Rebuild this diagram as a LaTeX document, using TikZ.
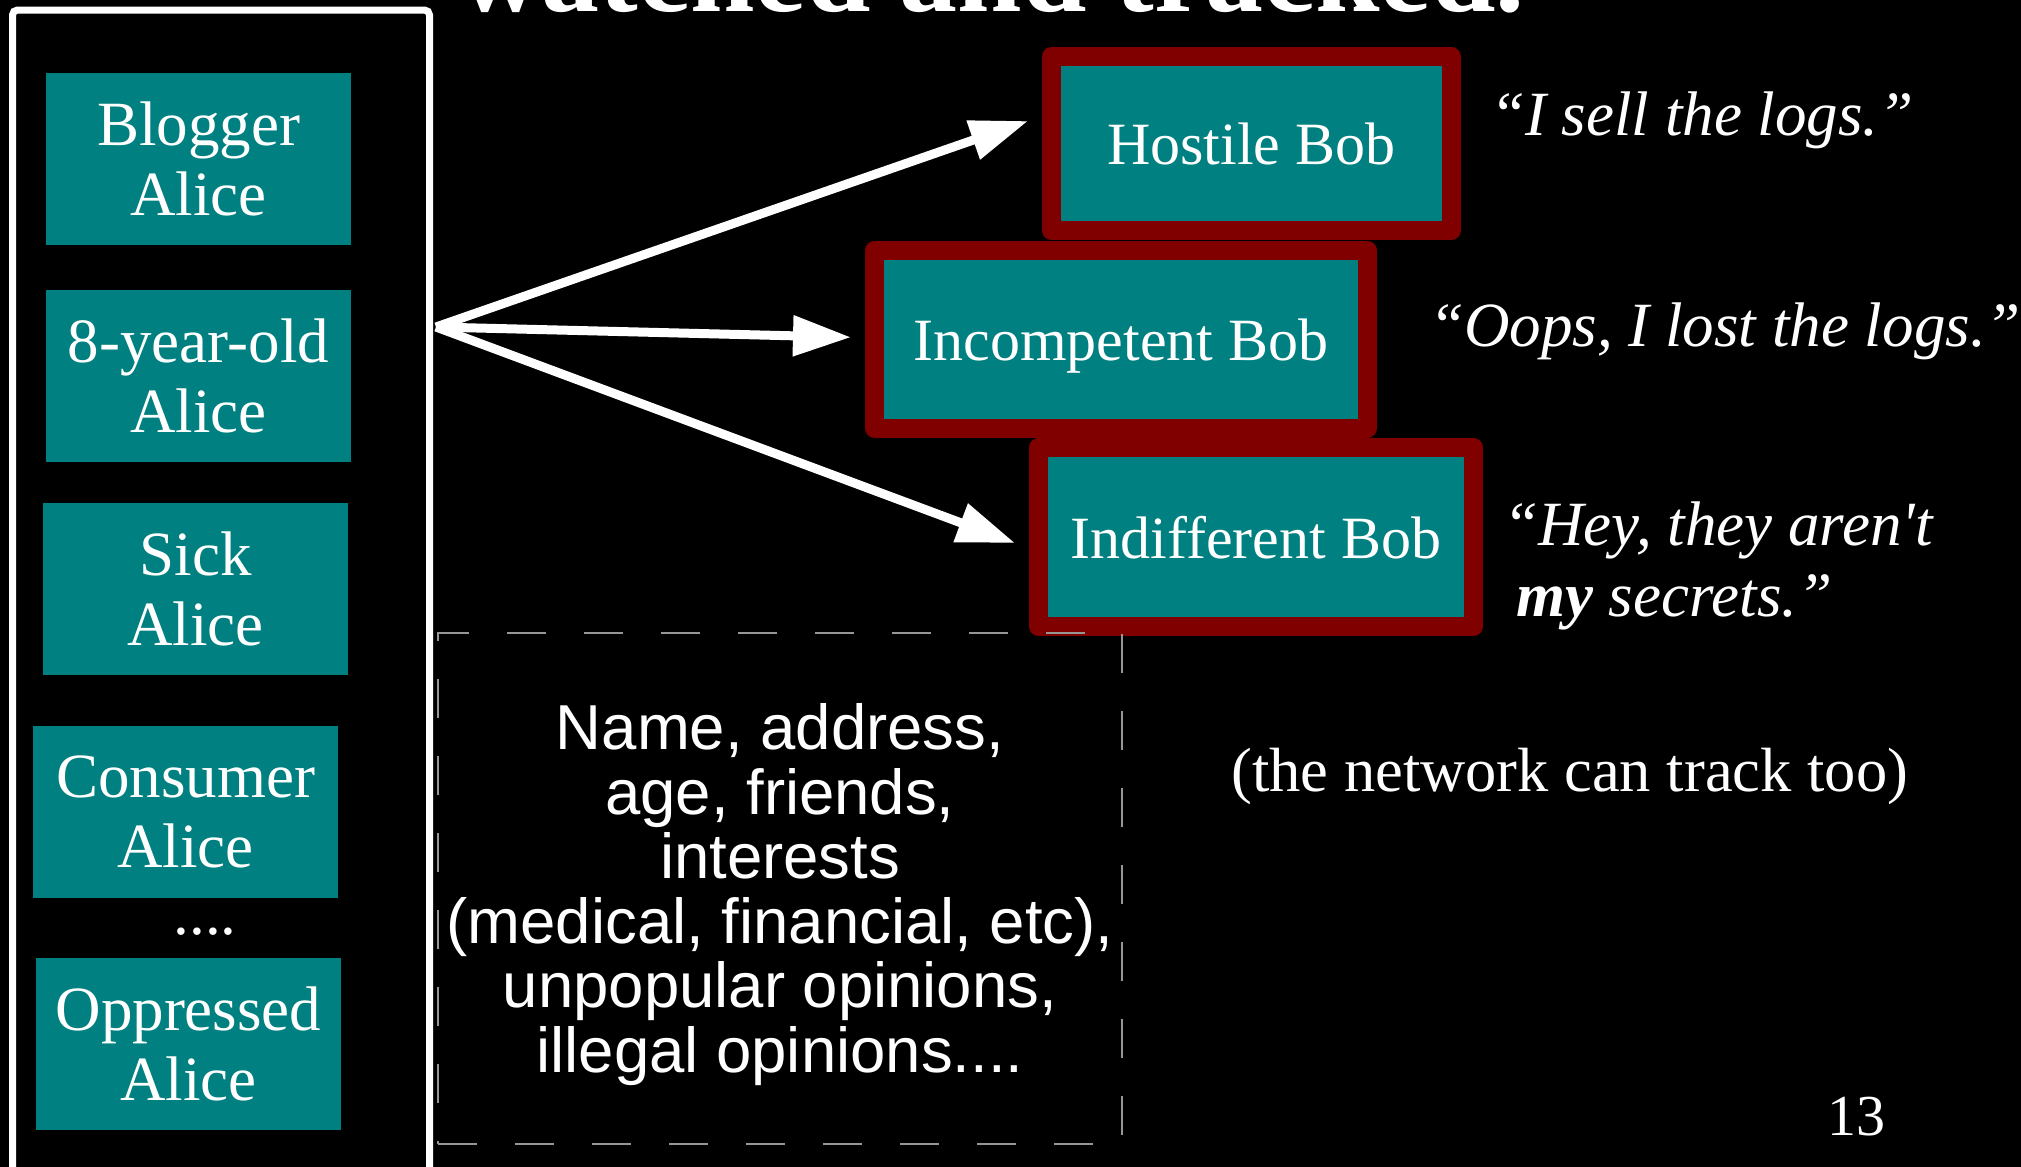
\documentclass[tikz,border=0pt]{standalone}
\usepackage{fontspec}
\setmainfont{Liberation Serif}
\newfontfamily\sansfam{Liberation Sans}
\newfontfamily\qfont[Ligatures=TeXOff]{Liberation Serif}
\usetikzlibrary{arrows.meta,calc}
\definecolor{slideteal}{RGB}{0,128,128}
\definecolor{bobred}{RGB}{128,0,0}
\definecolor{dashgray}{RGB}{150,150,150}

\begin{document}
\begin{tikzpicture}[x=1pt,y=-1pt,
  alicebox/.style={fill=slideteal, draw=none, text=white, align=center,
    minimum width=305pt, minimum height=172pt, inner sep=0pt,
    font=\fontsize{63}{70}\selectfont},
  bobbox/.style={fill=slideteal, draw=bobred, line width=19pt, line join=round,
    text=white, inner sep=0pt, text depth=0pt, font=\fontsize{60}{66}\selectfont},
  quotetext/.style={text=white, anchor=base west, inner sep=0pt,
    font=\qfont\itshape\fontsize{63}{70}\selectfont},
  plain/.style={text=white, anchor=base west, inner sep=0pt},
  fanarrow/.style={draw=white, line width=9pt, -{Triangle[length=58pt,width=39pt]}},
]
\useasboundingbox (0,0) rectangle (2021,1167);
\fill[black] (0,0) rectangle (2021,1167);
\clip (0,0) rectangle (2021,1167);

% slide title, running off the top edge
\node[plain, font=\fontsize{116}{116}\selectfont\bfseries] (title) at (458,12) {watched and tracked.};

% the column of Alices
\draw[white, line width=7pt, rounded corners=5pt] (12.5,10) rectangle (429.5,1200);
\node[alicebox] (blogger)   at (198.5,159.3) {Blogger\\Alice};
\node[alicebox] (eightyo)   at (198.5,375.8) {8-year-old\\Alice};
\node[alicebox] (sick)      at (195.5,589)   {Sick\\Alice};
\node[alicebox] (consumer)  at (185.5,811.5) {Consumer\\Alice};
\node[plain, anchor=base, font=\fontsize{63}{70}\selectfont] (dots) at (205,934) {....};
\node[alicebox] (oppressed) at (188.5,1044)  {Oppressed\\Alice};

% the three Bobs
\node[bobbox, minimum width=399.5pt, minimum height=174pt]  (hostile)     at (1251.25,143.5) {Hostile Bob};
\node[bobbox, minimum width=493pt,   minimum height=177.5pt] (incompetent) at (1121,339.25)  {Incompetent Bob};
\node[bobbox, minimum width=435pt,   minimum height=179pt]  (indifferent) at (1256,537)     {Indifferent Bob};

% what each Bob says
\node[quotetext] (q1)  at (1490,135) {“I sell the logs.”};
\node[quotetext] (q2)  at (1429,346) {“Oops, I lost the logs.”};
\node[quotetext] (q3a) at (1503,545) {“Hey, they aren't};
\node[quotetext] (q3b) at (1516,616) {\textbf{my} secrets.”};

% the data that leaks
\node[draw=dashgray, line width=2pt, dash pattern=on 39pt off 38pt,
      minimum width=684pt, minimum height=511pt, inner sep=0pt] (info) at (780,888.5) {};
\node[text=white, align=center, inner sep=0pt,
      font=\sansfam\fontsize{63.5}{64.5}\selectfont] (infotext) at ($(info.center)+(0,6)$)
  {Name, address,\\age, friends,\\interests\\(medical, financial, etc),\\unpopular opinions,\\illegal opinions....};

\node[plain, font=\fontsize{62.5}{66}\selectfont] (nettrack) at (1231,791) {(the network can track too)};
\node[plain, font=\fontsize{58}{60}\selectfont] (pagenum) at (1827,1135) {13};

% fan of arrows from the Alices to the Bobs
\coordinate (fan) at (436,327);
\draw[fanarrow] (fan) -- ($(hostile.west)+(-14,-22.5)$);
\draw[fanarrow] (fan) -- ($(incompetent.west)+(-14,-2)$);
\draw[fanarrow] (fan) -- ($(indifferent.west)+(-14,6)$);
\end{tikzpicture}
\end{document}
